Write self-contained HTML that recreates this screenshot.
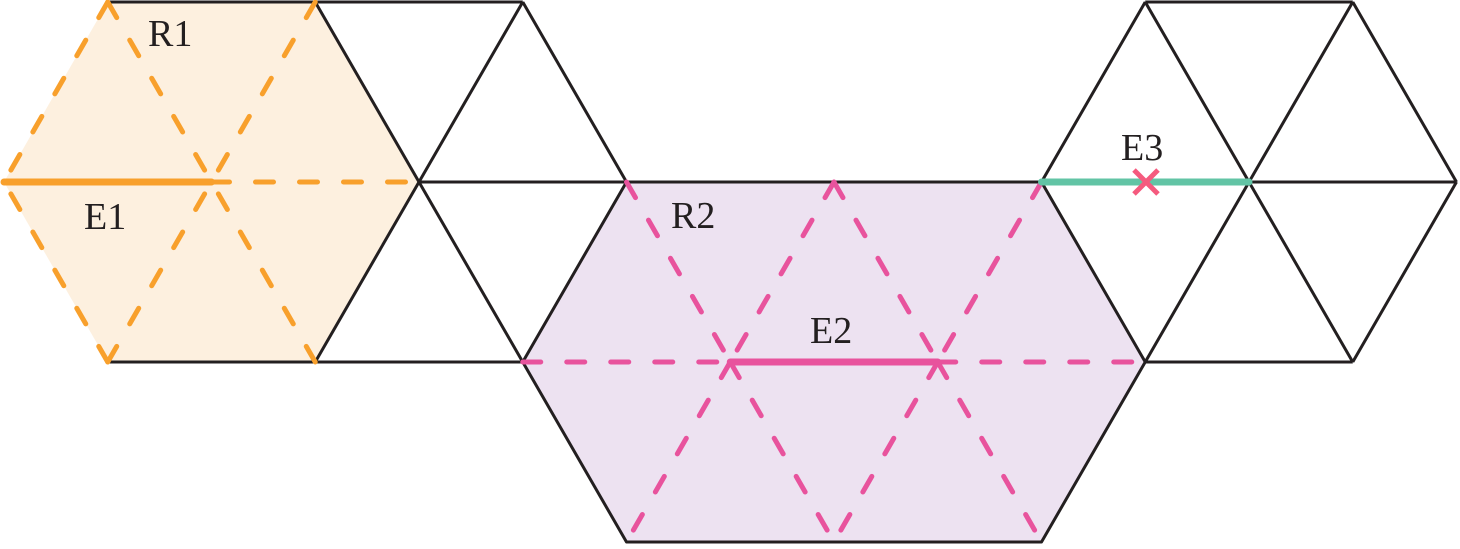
<!DOCTYPE html>
<html><head><meta charset="utf-8"><style>
html,body{margin:0;padding:0;background:#fff;}
svg{display:block;}
text{font-family:"Liberation Serif",serif;font-size:38px;fill:#231f20;}
</style></head><body>
<svg width="1460" height="549" viewBox="0 0 1460 549" xmlns="http://www.w3.org/2000/svg">
<polygon points="4,182 107.75,2 315.25,2 419,182 315.25,362 107.75,362" fill="#fdf0df"/>
<g stroke="#231f20" stroke-width="3" fill="none" stroke-linejoin="round">
<line x1="107.75" y1="2" x2="522.75" y2="2"/>
<line x1="107.75" y1="362" x2="626.5" y2="362"/>
<line x1="419" y1="182" x2="626.5" y2="182"/>
<line x1="315.25" y1="2" x2="522.75" y2="362"/>
<line x1="522.75" y1="2" x2="315.25" y2="362"/>
<line x1="522.75" y1="2" x2="626.5" y2="182"/>
<line x1="1145.25" y1="2" x2="1352.75" y2="2"/>
<line x1="1041.5" y1="182" x2="1456.5" y2="182"/>
<line x1="1145.25" y1="362" x2="1352.75" y2="362"/>
<line x1="1145.25" y1="2" x2="1041.5" y2="182"/>
<line x1="1145.25" y1="2" x2="1352.75" y2="362"/>
<line x1="1352.75" y1="2" x2="1145.25" y2="362"/>
<line x1="1352.75" y1="2" x2="1456.5" y2="182"/>
<line x1="1456.5" y1="182" x2="1352.75" y2="362"/>
</g>
<polygon points="626.5,182 1041.5,182 1145.25,362 1041.5,542 626.5,542 522.75,362" fill="#ede2f1" stroke="#231f20" stroke-width="3" stroke-linejoin="round"/>
<g stroke="#f8a02c" stroke-width="5" fill="none" stroke-linecap="round" stroke-dasharray="18 26">
<line x1="107.75" y1="2" x2="4" y2="182"/>
<line x1="107.75" y1="362" x2="4" y2="182"/>
<line x1="211.5" y1="182" x2="419" y2="182"/>
<line x1="107.75" y1="2" x2="211.5" y2="182"/>
<line x1="315.25" y1="362" x2="211.5" y2="182"/>
<line x1="315.25" y1="2" x2="211.5" y2="182"/>
<line x1="107.75" y1="362" x2="211.5" y2="182"/>
</g>
<line x1="4" y1="182" x2="211.5" y2="182" stroke="#f8a02c" stroke-width="7" stroke-linecap="round"/>
<g stroke="#e8539d" stroke-width="5" fill="none" stroke-linecap="round" stroke-dasharray="18 26">
<line x1="522.75" y1="362" x2="730.25" y2="362"/>
<line x1="937.75" y1="362" x2="1145.25" y2="362"/>
<line x1="626.5" y1="182" x2="730.25" y2="362"/>
<line x1="730.25" y1="362" x2="834" y2="542"/>
<line x1="834" y1="182" x2="730.25" y2="362"/>
<line x1="730.25" y1="362" x2="626.5" y2="542"/>
<line x1="834" y1="182" x2="937.75" y2="362"/>
<line x1="937.75" y1="362" x2="1041.5" y2="542"/>
<line x1="1041.5" y1="182" x2="937.75" y2="362"/>
<line x1="937.75" y1="362" x2="834" y2="542"/>
</g>
<line x1="730.25" y1="362" x2="937.75" y2="362" stroke="#e8539d" stroke-width="7" stroke-linecap="round"/>
<line x1="1041.5" y1="182" x2="1249" y2="182" stroke="#62c4a5" stroke-width="7" stroke-linecap="round"/>
<g stroke="#f55a7e" stroke-width="5">
<line x1="1134" y1="170" x2="1158" y2="194"/>
<line x1="1158" y1="170" x2="1134" y2="194"/>
</g>
<text x="148" y="46">R1</text>
<text x="84" y="229">E1</text>
<text x="671" y="228">R2</text>
<text x="810" y="343">E2</text>
<text x="1121" y="160">E3</text>
</svg>
</body></html>
